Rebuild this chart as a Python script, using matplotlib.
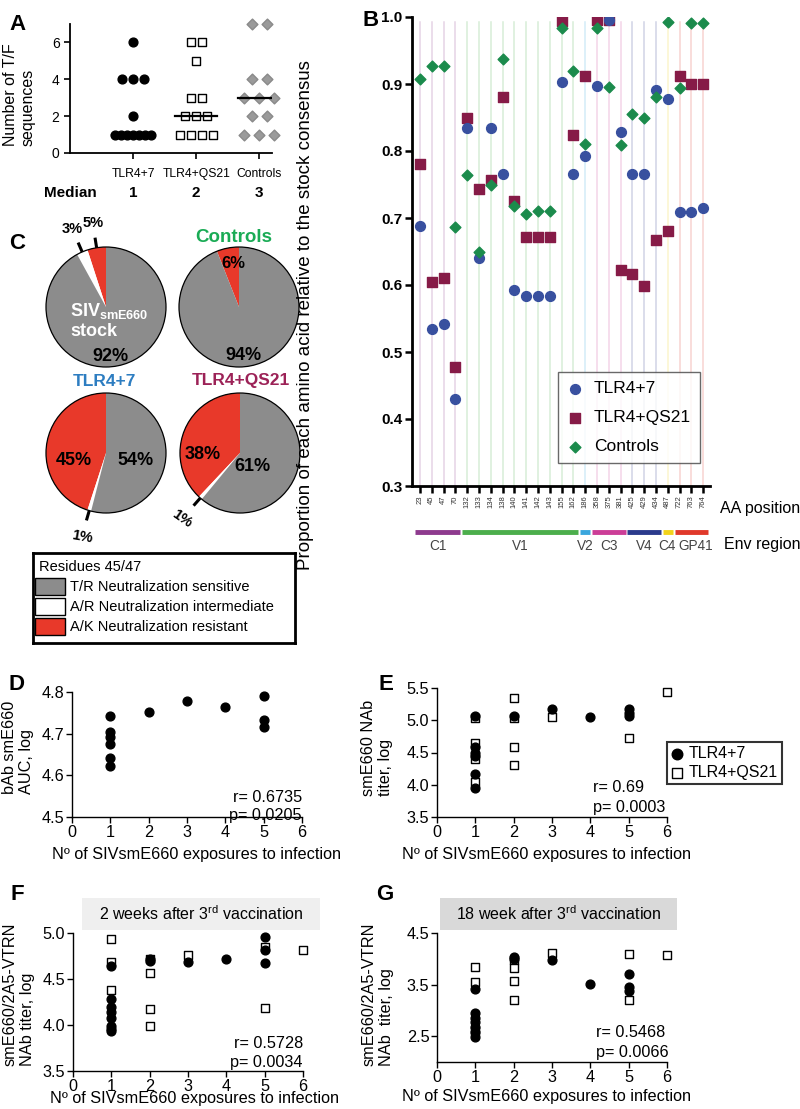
import numpy as np
import matplotlib
matplotlib.use('Agg')
import matplotlib.pyplot as plt
from matplotlib.patches import Rectangle, Circle
from matplotlib.lines import Line2D
import matplotlib.transforms as mtransforms

plt.rcParams['font.family'] = ['Liberation Sans', 'DejaVu Sans']
plt.rcParams['mathtext.fontset'] = 'custom'
plt.rcParams['mathtext.rm'] = 'Liberation Sans'
plt.rcParams['mathtext.it'] = 'Liberation Sans:italic'
plt.rcParams['mathtext.bf'] = 'Liberation Sans:bold'

# ---------------- DATA ----------------
# Panel A: number of T/F sequences
A_groups = ["TLR4+7", "TLR4+QS21", "Controls"]
A_tlr47 = [6, 4, 4, 4, 2, 1, 1, 1, 1, 1, 1, 1]
A_qs21 = [6, 6, 5, 3, 3, 2, 2, 2, 1, 1, 1, 1]
A_ctrl = [7, 7, 4, 4, 3, 3, 3, 2, 2, 1, 1, 1]

# Panel B: proportion relative to stock consensus
aa_pos = [23, 45, 47, 70, 132, 133, 134, 138, 140, 141, 142, 143, 155, 162,
          186, 358, 375, 381, 425, 429, 434, 487, 722, 763, 764]
env_regions = ["C1", "V1", "V2", "C3", "V4", "C4", "GP41"]
env_counts = [4, 10, 1, 3, 3, 1, 3]
env_colors = ["#8e3a8e", "#4cae4c", "#3aa6dd", "#cc3d97", "#2b3a8c", "#f2d31b", "#e0392b"]
B_tlr47 = [0.688, 0.535, 0.542, 0.430, 0.834, 0.640, 0.834, 0.765, 0.592, 0.584, 0.584, 0.584,
           0.903, 0.765, 0.793, 0.897, 0.995, 0.828, 0.765, 0.765, 0.891, 0.877, 0.709, 0.709, 0.715]
B_qs21 = [0.780, 0.604, 0.611, 0.477, 0.849, 0.743, 0.756, 0.881, 0.725, 0.672, 0.672, 0.672,
          0.994, 0.824, 0.912, 0.995, 0.995, 0.623, 0.616, 0.598, 0.667, 0.680, 0.912, 0.900, 0.900]
B_ctrl = [0.907, 0.927, 0.927, 0.686, 0.764, 0.649, 0.750, 0.938, 0.718, 0.706, 0.711, 0.711,
          0.984, 0.920, 0.811, 0.984, 0.895, 0.809, 0.855, 0.849, 0.880, 0.993, 0.894, 0.991, 0.991]

# Panel C: residues 45/47 (% resistant, % intermediate, % sensitive)
C_titles = ["", "Controls", "TLR4+7", "TLR4+QS21"]
C_stock = [5, 3, 92]
C_ctrl = [6, 0, 94]
C_tlr47 = [45, 1, 54]
C_qs21 = [38, 1, 61]
C_legend = ["T/R Neutralization sensitive", "A/R Neutralization intermediate", "A/K Neutralization resistant"]

# Panel D
D_x = [1, 1, 1, 1, 1, 1, 2, 3, 4, 5, 5, 5]
D_y = [4.742, 4.705, 4.693, 4.675, 4.641, 4.623, 4.751, 4.778, 4.764, 4.790, 4.733, 4.716]
# Panel E
E_cx = [1, 1, 1, 1, 1, 1, 2, 3, 4, 5, 5, 5]
E_cy = [5.07, 4.58, 4.50, 4.45, 4.16, 3.95, 5.06, 5.18, 5.05, 5.17, 5.12, 5.06]
E_sx = [1, 1, 1, 1, 2, 2, 2, 2, 3, 5, 6]
E_sy = [5.03, 4.65, 4.40, 4.05, 5.34, 5.03, 4.58, 4.31, 5.05, 4.72, 5.44]
# Panel F
F_cx = [1, 1, 1, 1, 1, 1, 1, 1, 2, 2, 3, 4, 5, 5, 5]
F_cy = [4.64, 4.28, 4.20, 4.14, 4.08, 3.99, 3.96, 3.93, 4.72, 4.70, 4.69, 4.72, 4.96, 4.81, 4.67]
F_sx = [1, 1, 1, 2, 2, 2, 2, 3, 5, 5, 6]
F_sy = [4.93, 4.69, 4.38, 4.72, 4.57, 4.17, 3.99, 4.76, 4.85, 4.19, 4.81]
# Panel G
G_cx = [1, 1, 1, 1, 1, 1, 1, 2, 2, 3, 4, 5, 5, 5]
G_cy = [3.42, 2.94, 2.86, 2.78, 2.68, 2.58, 2.49, 4.04, 3.99, 3.98, 3.52, 3.70, 3.45, 3.38]
G_sx = [1, 1, 1, 2, 2, 2, 2, 3, 5, 5, 6]
G_sy = [3.85, 3.56, 2.60, 3.97, 3.83, 3.57, 3.21, 4.11, 4.09, 3.21, 4.07]

# ---------------- FIGURE ----------------
W, H = 800, 1109
fig = plt.figure(figsize=(W / 100, H / 100), dpi=100)


def rect(l, t, r, b):
    return [l / W, 1 - b / H, (r - l) / W, (b - t) / H]


def ftext(x, y, s, **kw):
    return fig.text(x / W, 1 - y / H, s, **kw)


# panel letters
for lab, x, y in [("A", 9, 30), ("B", 362, 26), ("C", 9, 249), ("D", 9, 690),
                  ("E", 378, 690), ("F", 11, 900), ("G", 376, 900)]:
    ftext(x, y, lab, fontsize=16, fontweight='bold', va='baseline', ha='left')

# ---------------- Panel A ----------------
axA = fig.add_axes(rect(70, 24, 272, 153))
pxu = 202 / 3.2
styles = [dict(marker='o', s=40, fc='black', ec='black', sp=11),
          dict(marker='s', s=34, fc='white', ec='black', sp=11),
          dict(marker='D', s=30, fc='#9a9a9a', ec='#8a8a8a', sp=15)]
for i, vals in enumerate([A_tlr47, A_qs21, A_ctrl]):
    xc = i + 1
    vals = np.array(vals)
    xs, ys = [], []
    for v in np.unique(vals):
        n = int((vals == v).sum())
        step = min(styles[i]['sp'], 36 / (n - 1)) if n > 1 else 0
        offs = (np.arange(n) - (n - 1) / 2) * step / pxu
        xs += list(xc + offs)
        ys += [v] * n
    st = styles[i]
    axA.scatter(xs, ys, marker=st['marker'], s=st['s'], facecolor=st['fc'],
                edgecolor=st['ec'], linewidth=1, clip_on=False, zorder=3)
    med = np.median(vals)
    axA.plot([xc - 21 / pxu, xc + 21 / pxu], [med, med], color='black', lw=1.6, zorder=4)
    axA.text(xc, -0.31, "%d" % med, transform=mtransforms.blended_transform_factory(axA.transData, axA.transAxes),
             ha='center', va='center', fontsize=11, fontweight='bold')
axA.text(0.0, -0.31, "Median", transform=axA.transAxes, ha='center', va='center',
         fontsize=11, fontweight='bold')
axA.set_xlim(0, 3.2)
axA.set_ylim(0, 7)
axA.set_yticks([0, 2, 4, 6])
axA.set_xticks([1, 2, 3])
axA.set_xticklabels(A_groups, fontsize=8.7)
axA.tick_params(axis='y', labelsize=10, length=4, width=1.2)
axA.tick_params(axis='x', length=4, width=1.2, pad=7)
for s in ['top', 'right']:
    axA.spines[s].set_visible(False)
for s in ['left', 'bottom']:
    axA.spines[s].set_linewidth(1.3)
ftext(19, 95, "Number of T/F\nsequences", rotation=90, ha='center', va='center', fontsize=11.5,
      multialignment='left')

# ---------------- Panel B ----------------
axB = fig.add_axes(rect(412, 17, 710, 486))
xB = np.arange(len(aa_pos))
pos_colors = []
for c, n in zip(env_colors, env_counts):
    pos_colors += [c] * n
for xi, c in zip(xB, pos_colors):
    axB.axvline(xi, ymin=0, ymax=0.99, color=c, lw=1.1, alpha=0.22, zorder=0)
hq = axB.scatter(xB, B_qs21, marker='s', s=56, color='#861b47', zorder=2, label='TLR4+QS21')
hb = axB.scatter(xB, B_tlr47, marker='o', s=50, color='#38509f', zorder=3, label='TLR4+7')
hc = axB.scatter(xB, B_ctrl, marker='D', s=30, color='#1b8b4c', zorder=4, label='Controls')
axB.set_xlim(-0.68, 24.58)
axB.set_ylim(0.3, 1.0)
axB.set_yticks(np.arange(0.3, 1.01, 0.1))
axB.set_yticklabels(["%.1f" % v for v in np.arange(0.3, 1.01, 0.1)], fontweight='bold', fontsize=11)
axB.set_xticks(xB)
axB.set_xticklabels([str(a) for a in aa_pos], rotation=90, fontsize=5.5, color='#333333')
axB.tick_params(axis='y', length=5, width=1.8, pad=2)
axB.tick_params(axis='x', length=5, width=1.8, pad=2)
for s in ['top', 'right']:
    axB.spines[s].set_visible(False)
for s in ['left', 'bottom']:
    axB.spines[s].set_linewidth(2)
trB = mtransforms.blended_transform_factory(axB.transData, axB.transAxes)
start = 0
for name, n, c in zip(env_regions, env_counts, env_colors):
    x0, x1 = start - 0.42, start + n - 1 + 0.42
    axB.add_line(Line2D([x0, x1], [-0.098, -0.098], transform=trB, color=c, lw=3.5,
                        clip_on=False, solid_capstyle='butt'))
    shift = 0.35 if name == "GP41" else (-0.1 if name == "C4" else 0)
    axB.text((x0 + x1) / 2 + shift, -0.127, name, transform=trB, ha='center', va='center',
             fontsize=9.8, color='#444444')
    start += n
leg = axB.legend(handles=[hb, hq, hc], loc='lower right', bbox_to_anchor=(0.966, 0.049),
                 fontsize=12.5, frameon=True, fancybox=False, edgecolor='#444444',
                 borderpad=0.5, labelspacing=0.8, handletextpad=0.6, handlelength=1.0,
                 borderaxespad=0)
leg.get_frame().set_linewidth(1)
ftext(720, 509, "AA position", fontsize=11.5, ha='left', va='center')
ftext(724, 545, "Env region", fontsize=11.5, ha='left', va='center')
ftext(306, 315, "Proportion of each amino acid relative to the stock consensus",
      rotation=90, ha='center', va='center', fontsize=13.5)

# ---------------- Panel C ----------------
RED, WHITE, GRAY = '#e8392a', '#ffffff', '#8c8c8c'
pie_cols = [RED, WHITE, GRAY]


def pie_ax(cx, cy, vals):
    ax = fig.add_axes(rect(cx - 65, cy - 65, cx + 65, cy + 65))
    ax.pie(vals, colors=pie_cols, startangle=90, counterclock=True, radius=1,
           wedgeprops=dict(linewidth=0))
    ax.add_patch(Circle((0, 0), 1, fill=False, ec='black', lw=0.9, zorder=5))
    ax.set_xlim(-65 / 60, 65 / 60)
    ax.set_ylim(-65 / 60, 65 / 60)
    ax.set_aspect('auto')
    ax.axis('off')
    return ax


def mid_angle(vals, k):
    tot = float(sum(vals))
    a0 = 90 + 360 * sum(vals[:k]) / tot
    return np.deg2rad(a0 + 180 * vals[k] / tot)


def tick_label(ax, vals, k, text, rt, rot=0, style='normal'):
    a = mid_angle(vals, k)
    ax.plot([np.cos(a), 1.17 * np.cos(a)], [np.sin(a), 1.17 * np.sin(a)], color='black',
            lw=2.2, clip_on=False, solid_capstyle='butt')
    ax.text(rt * np.cos(a), rt * np.sin(a), text, ha='center', va='center', fontsize=10.5,
            fontweight='bold', rotation=rot, style=style, clip_on=False)


ax1 = pie_ax(106, 307, C_stock)
tick_label(ax1, C_stock, 0, "5%", 1.42)
tick_label(ax1, C_stock, 1, "3%", 1.42)
ax1.text(-0.6, -0.07, r"SIV$_{\mathbf{smE660}}$", color='white', fontsize=13, fontweight='bold',
         ha='left', va='center')
ax1.text(-0.6, -0.4, "stock", color='white', fontsize=13, fontweight='bold', ha='left', va='center')
ax1.text(0.07, -0.83, "92%", fontsize=13, fontweight='bold', ha='center', va='center')

ax2 = pie_ax(239, 307, C_ctrl)
ax2.text(-0.1, 0.73, "6%", fontsize=12, fontweight='bold', ha='center', va='center')
ax2.text(0.07, -0.8, "94%", fontsize=13, fontweight='bold', ha='center', va='center')
ftext(234, 238, C_titles[1], fontsize=13.5, fontweight='bold', color='#1aab55', ha='center', va='center')

ax3 = pie_ax(106, 453, C_tlr47)
tick_label(ax3, C_tlr47, 1, "1%", 1.45, rot=-10)
ax3.text(-0.53, -0.13, "45%", fontsize=13, fontweight='bold', ha='center', va='center')
ax3.text(0.5, -0.13, "54%", fontsize=13, fontweight='bold', ha='center', va='center')
ftext(104, 381, C_titles[2], fontsize=12.5, fontweight='bold', color='#2d7dc1', ha='center', va='center')

ax4 = pie_ax(240, 453, C_qs21)
tick_label(ax4, C_qs21, 1, "1%", 1.45, rot=-35)
ax4.text(-0.62, -0.03, "38%", fontsize=13, fontweight='bold', ha='center', va='center')
ax4.text(0.2, -0.23, "61%", fontsize=13, fontweight='bold', ha='center', va='center')
ftext(241, 381, C_titles[3], fontsize=12.5, fontweight='bold', color='#9c2257', ha='center', va='center')

# legend box for C
axL = fig.add_axes(rect(33, 553, 295, 643))
axL.set_xlim(0, 262)
axL.set_ylim(90, 0)
axL.set_xticks([])
axL.set_yticks([])
for s in axL.spines.values():
    s.set_linewidth(2)
axL.text(6, 14, "Residues 45/47", fontsize=10.5, ha='left', va='center')
for j, (lab, col) in enumerate(zip(C_legend, [GRAY, WHITE, RED])):
    y0 = 25 + 20 * j
    axL.add_patch(Rectangle((2, y0), 30, 17, facecolor=col, edgecolor='black', lw=1))
    axL.text(37, y0 + 9, lab, fontsize=10.5, ha='left', va='center')

# ---------------- Panels D-G ----------------
FS = 11.7
xlab = "N\u00ba of SIVsmE660 exposures to infection"


def scatter_panel(l, t, r, b, ylim, yticks, ylab, ylab_xy, xlab_xy):
    ax = fig.add_axes(rect(l, t, r, b))
    ax.set_xlim(0, 6)
    ax.set_ylim(*ylim)
    ax.set_xticks(range(7))
    ax.set_yticks(yticks)
    ax.set_yticklabels(["%.1f" % v for v in yticks])
    ax.tick_params(labelsize=FS, length=4, width=1, pad=1.5)
    for s in ['top', 'right']:
        ax.spines[s].set_visible(False)
    for s in ['left', 'bottom']:
        ax.spines[s].set_linewidth(1)
    ftext(xlab_xy[0], xlab_xy[1], xlab, ha='center', va='center', fontsize=FS)
    ftext(ylab_xy[0], ylab_xy[1], ylab, rotation=90, ha='center', va='center', fontsize=FS,
          multialignment='left')
    return ax


def circles(ax, x, y):
    return ax.scatter(x, y, marker='o', s=40, color='black', zorder=3, clip_on=False, label='TLR4+7')


def squares(ax, x, y):
    return ax.scatter(x, y, marker='s', s=30, facecolor='white', edgecolor='black', linewidth=1,
                      zorder=2, clip_on=False, label='TLR4+QS21')


axD = scatter_panel(72, 692, 302, 817, (4.5, 4.8), [4.5, 4.6, 4.7, 4.8], "bAb smE660\nAUC, log",
                    (18, 747), (197, 855))
circles(axD, D_x, D_y)
axD.text(1.0, 0.16, "r= 0.6735", transform=axD.transAxes, ha='right', va='center', fontsize=FS)
axD.text(1.0, 0.01, "p= 0.0205", transform=axD.transAxes, ha='right', va='center', fontsize=FS)

axE = scatter_panel(437, 688, 667, 817, (3.5, 5.5), [3.5, 4.0, 4.5, 5.0, 5.5], "smE660 NAb\ntiter, log",
                    (377, 748), (546, 855))
sq = squares(axE, E_sx, E_sy)
ci = circles(axE, E_cx, E_cy)
axE.text(0.68, 0.225, "r= 0.69", transform=axE.transAxes, ha='left', va='center', fontsize=FS)
axE.text(0.68, 0.075, "p= 0.0003", transform=axE.transAxes, ha='left', va='center', fontsize=FS)
legE = fig.legend(handles=[ci, sq], loc='upper left', bbox_to_anchor=(667 / W, 1 - 742 / H),
                  bbox_transform=fig.transFigure, fontsize=11.5, frameon=True, fancybox=False,
                  edgecolor='black', borderpad=0.25, labelspacing=0.25, handletextpad=0.3,
                  handlelength=0.8, borderaxespad=0, markerscale=1.2)
legE.get_frame().set_linewidth(1.5)

axF = scatter_panel(73, 933, 303, 1071, (3.5, 5.0), [3.5, 4.0, 4.5, 5.0], "smE660/2A5-VTRN\nNAb titer, log",
                    (19, 994), (194, 1099))
squares(axF, F_sx, F_sy)
circles(axF, F_cx, F_cy)
axF.text(1.0, 0.2, "r= 0.5728", transform=axF.transAxes, ha='right', va='center', fontsize=FS)
axF.text(1.0, 0.06, "p= 0.0034", transform=axF.transAxes, ha='right', va='center', fontsize=FS)

axG = scatter_panel(437, 933, 667, 1062, (2.0, 4.5), [2.5, 3.5, 4.5], "smE660/2A5-VTRN\nNAb  titer, log",
                    (378, 994), (546, 1097))
squares(axG, G_sx, G_sy)
circles(axG, G_cx, G_cy)
axG.text(0.69, 0.225, "r= 0.5468", transform=axG.transAxes, ha='left', va='center', fontsize=FS)
axG.text(0.69, 0.07, "p= 0.0066", transform=axG.transAxes, ha='left', va='center', fontsize=FS)

# header boxes
for (l, t, r, b, col, txt) in [(82, 898, 320, 930, '#efefef', r"2 weeks after 3$^{\mathrm{rd}}$ vaccination"),
                               (440, 898, 677, 930, '#d9d9d9', r"18 week after 3$^{\mathrm{rd}}$ vaccination")]:
    fig.patches.append(Rectangle((l / W, 1 - b / H), (r - l) / W, (b - t) / H, transform=fig.transFigure,
                                 facecolor=col, edgecolor='none', zorder=0))
    ftext((l + r) / 2, (t + b) / 2, txt, ha='center', va='center', fontsize=11.5)

fig.savefig('out.png', dpi=100)
